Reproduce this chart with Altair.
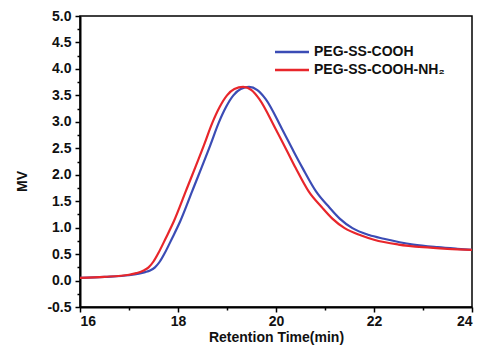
import altair as alt
import pandas as pd

# Blue series: PEG-SS-COOH
blue_t = [16.0, 16.5, 17.0, 17.2, 17.33, 17.43, 17.53, 17.63, 17.73, 17.88, 18.05, 18.29,
          18.66, 18.83, 18.98, 19.13, 19.28, 19.45, 19.62, 19.79, 20.12, 20.36, 20.54,
          20.82, 21.09, 21.3, 21.56, 21.9, 22.2, 22.8, 23.3, 23.7, 24.0]
blue_v = [0.05, 0.07, 0.10, 0.13, 0.16, 0.19, 0.25, 0.36, 0.52, 0.80, 1.13, 1.69,
          2.56, 2.98, 3.28, 3.50, 3.62, 3.66, 3.60, 3.43, 2.87, 2.44, 2.13,
          1.68, 1.38, 1.17, 0.99, 0.86, 0.79, 0.68, 0.63, 0.60, 0.58]

# Red series: PEG-SS-COOH-NH2
red_t = [16.0, 16.5, 17.0, 17.15, 17.3, 17.4, 17.5, 17.6, 17.75, 17.92, 18.16, 18.53,
         18.7, 18.85, 19.0, 19.15, 19.33, 19.5, 19.66, 19.99, 20.23, 20.4, 20.67,
         20.94, 21.15, 21.4, 21.74, 22.0, 22.5, 23.0, 23.5, 24.0]
red_v = [0.05, 0.07, 0.11, 0.14, 0.19, 0.25, 0.36, 0.52, 0.80, 1.13, 1.69, 2.56,
         2.98, 3.28, 3.50, 3.62, 3.66, 3.60, 3.43, 2.87, 2.44, 2.13, 1.68,
         1.38, 1.17, 0.99, 0.85, 0.77, 0.68, 0.63, 0.60, 0.58]

series_names = ["PEG-SS-COOH", "PEG-SS-COOH-NH\u2082"]
series_colors = ["#3b4cb5", "#e8262b"]

x_ticks = [16, 17, 18, 19, 20, 21, 22, 23, 24]
y_ticks = [-0.5 + 0.25 * i for i in range(23)]

rows = []
for t, v in zip(blue_t, blue_v):
    rows.append({"t": t, "v": v, "s": series_names[0]})
for t, v in zip(red_t, red_v):
    rows.append({"t": t, "v": v, "s": series_names[1]})
df = pd.DataFrame(rows)

FONT = "Liberation Sans"
half_test = "abs(datum.value * 2 - round(datum.value * 2)) < 0.001"

chart = alt.Chart(df).mark_line(strokeWidth=2.2, interpolate="monotone").encode(
    x=alt.X("t:Q",
            scale=alt.Scale(domain=[16, 24], nice=False, zero=False),
            axis=alt.Axis(title="Retention Time(min)", values=x_ticks,
                          labelExpr="datum.value % 2 === 0 ? datum.label : ''",
                          format="d",
                          tickSize={"condition": {"test": "datum.value % 2 !== 0", "value": 3}, "value": 5},
                          labelPadding=2, titlePadding=2)),
    y=alt.Y("v:Q",
            scale=alt.Scale(domain=[-0.5, 5.0], nice=False, zero=False),
            axis=alt.Axis(title="MV", values=y_ticks, format=".1f",
                          labelExpr=half_test + " ? replace(datum.label, '\u2212', '-') : ''",
                          tickSize={"condition": {"test": "!(" + half_test + ")", "value": 3}, "value": 5},
                          labelPadding=4, titlePadding=17, titleY=165)),
    color=alt.Color("s:N",
                    scale=alt.Scale(domain=series_names, range=series_colors),
                    legend=alt.Legend(title=None, orient="none", legendX=205, legendY=29,
                                      symbolType="M-3.4,0H3.4", symbolSize=100,
                                      symbolStrokeWidth=2.5, labelFontSize=14,
                                      labelFont=FONT, labelFontWeight="bold",
                                      labelColor="#111", labelOffset=15, rowPadding=4)),
    order=alt.Order("t:Q"),
).properties(
    width=392, height=291,
    autosize=alt.AutoSizeParams(type="none"),
    padding={"left": 72, "top": 8, "right": 8, "bottom": 41},
).configure_view(
    stroke="black", strokeWidth=1.5
).configure_axis(
    grid=False, domainColor="black", domainWidth=2, tickColor="black", tickWidth=1.5,
    labelFont=FONT, labelFontWeight="bold", labelFontSize=14, labelColor="#111",
    titleFont=FONT, titleFontWeight="bold", titleFontSize=14, titleColor="#111",
)

chart.save("out.html", embed_options={"renderer": "svg", "actions": False})
